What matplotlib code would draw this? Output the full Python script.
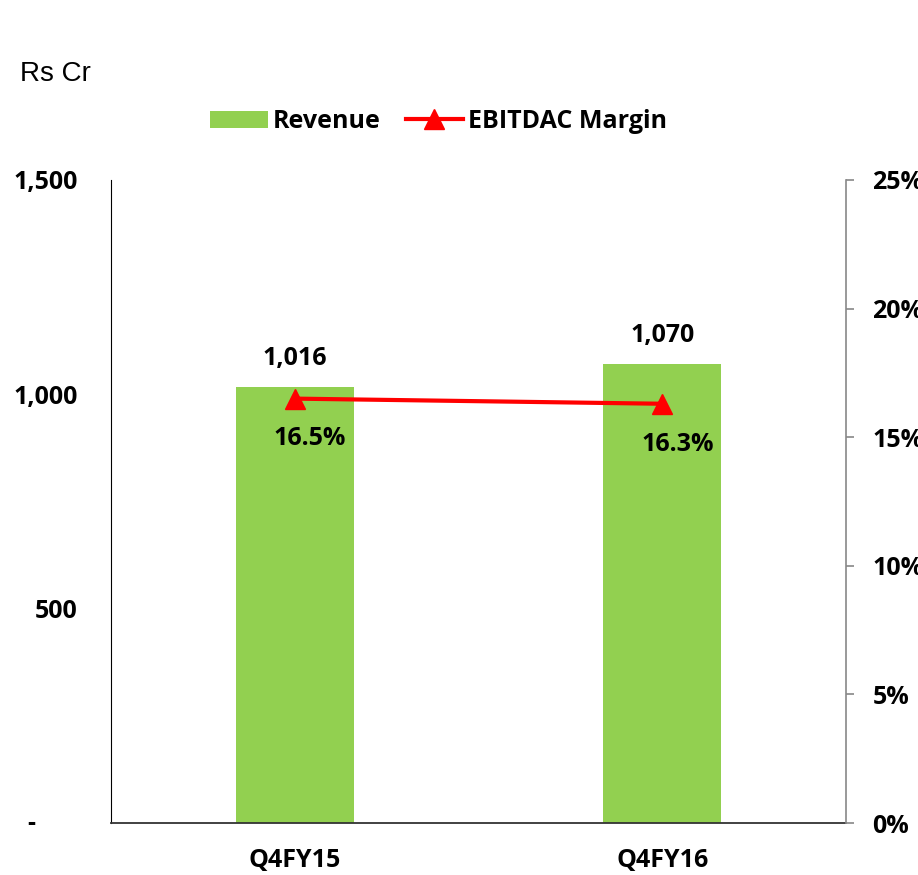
import matplotlib.pyplot as plt
import numpy as np

quarters = ["Q4FY15", "Q4FY16"]
revenue = [1016, 1070]
margin = [16.5, 16.3]
revenue_labels = ["1,016", "1,070"]
margin_labels = ["16.5%", "16.3%"]

GREEN = "#92D050"
RED = "#FF0000"
BOLD = "Open Sans"
FS = 18

fig = plt.figure(figsize=(9.18, 8.75), dpi=100)
ax = fig.add_axes([0.1209, 0.0594, 0.8007, 0.7349])
ax2 = ax.twinx()

x = np.arange(len(quarters))
bars = ax.bar(x, revenue, width=0.32, color=GREEN, label="Revenue", zorder=2)
ax.set_xlim(-0.5, 1.5)
ax.set_ylim(0, 1500)
ax.set_yticks([0, 500, 1000, 1500])
ax.set_yticklabels(["", "500", "1,000", "1,500"], fontfamily=BOLD,
                   fontweight="bold", fontsize=FS)
ax.tick_params(axis="y", length=0, pad=24)
ax.set_xticks(x)
ax.set_xticklabels(quarters, fontfamily=BOLD, fontweight="bold", fontsize=FS)
ax.tick_params(axis="x", length=0, pad=18)
ax.text(-0.108, 0, "-", transform=ax.get_yaxis_transform(), ha="center",
        va="center", fontfamily=BOLD, fontweight="bold", fontsize=FS)

for xi, v, lab in zip(x, revenue, revenue_labels):
    ax.annotate(lab, (xi, v), xytext=(0, 12), textcoords="offset points",
                ha="center", va="bottom", fontfamily=BOLD, fontweight="bold",
                fontsize=FS)

line, = ax2.plot(x, margin, color=RED, lw=3, marker="^", markersize=14,
                 label="EBITDAC Margin", zorder=3)
ax2.set_ylim(0, 25)
ax2.set_yticks([0, 5, 10, 15, 20, 25])
ax2.set_yticklabels([f"{t}%" for t in [0, 5, 10, 15, 20, 25]],
                    fontfamily=BOLD, fontweight="bold", fontsize=FS)
ax2.tick_params(axis="y", length=6, width=1.2, color="#888888", pad=13)

for xi, v, lab in zip(x, margin, margin_labels):
    ax2.annotate(lab, (xi, v), xytext=(11, -20), textcoords="offset points",
                 ha="center", va="top", fontfamily=BOLD, fontweight="bold",
                 fontsize=FS)

for a in (ax, ax2):
    a.spines["top"].set_visible(False)
ax.spines["right"].set_visible(False)
ax.spines["left"].set_color("black")
ax.spines["bottom"].set_color("#333333")
ax.spines["bottom"].set_linewidth(1.3)
ax2.spines["left"].set_visible(False)
ax2.spines["bottom"].set_visible(False)
ax2.spines["right"].set_color("#888888")
ax2.spines["right"].set_linewidth(1.2)

fig.text(0.022, 0.915, "Rs Cr", fontfamily="Liberation Sans", fontsize=20,
         va="center")

leg = fig.legend(handles=[bars, line], loc="center", ncol=2,
                 bbox_to_anchor=(0.478, 0.861), frameon=False,
                 prop={"family": BOLD, "weight": "bold", "size": FS},
                 handlelength=2.3, handletextpad=0.2, columnspacing=1.0)

fig.savefig("out.png", dpi=100)
